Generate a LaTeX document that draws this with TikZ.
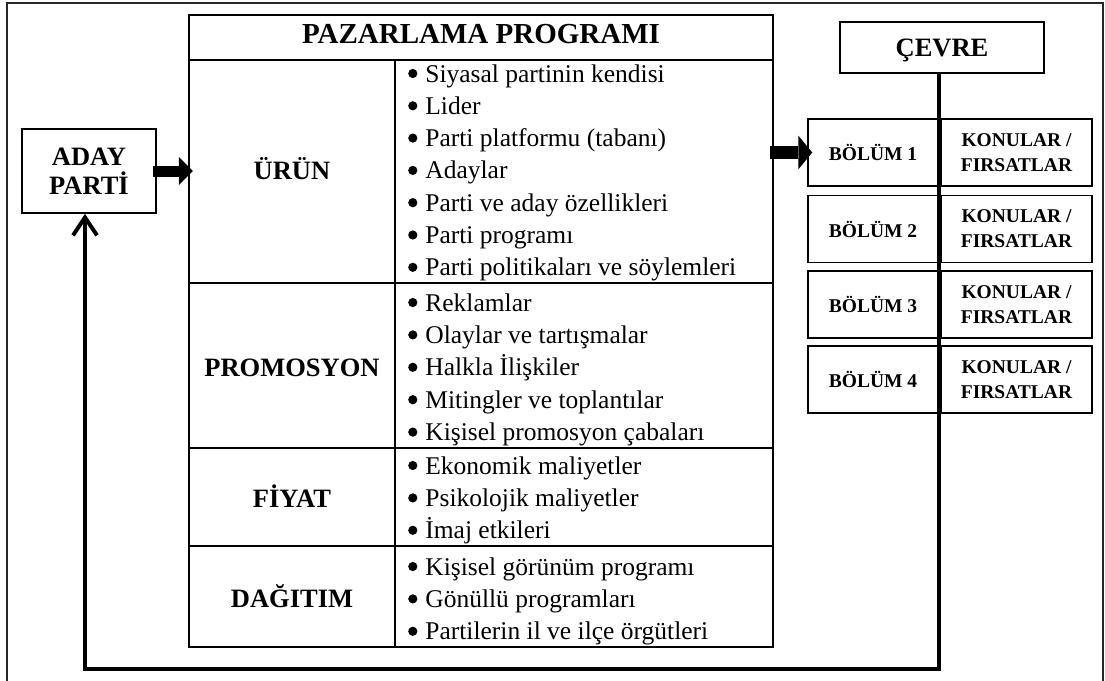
\documentclass[tikz,border=0pt]{standalone}
\usepackage{fontspec}
\setmainfont{Liberation Serif}
\usetikzlibrary{arrows.meta}
% list bullet: a solid disc sitting on the text's mid-height
\newcommand\itemdot{\tikz[baseline=0pt]\fill (5pt,8.5pt) circle (4.6pt);\hspace{8pt}}
\begin{document}
\begin{tikzpicture}[x=1pt,y=-1pt,
  box/.style={draw, line width=1.5pt, inner sep=0pt},
  headfont/.style={font=\bfseries\fontsize{29}{30}\selectfont},
  labelfont/.style={font=\bfseries\fontsize{26.5}{29}\selectfont},
  item/.style={font=\fontsize{25.5}{30}\selectfont, inner sep=0pt, anchor=base west},
  small/.style={font=\bfseries\fontsize{19.5}{25}\selectfont, align=center},
  grid/.style={line width=2.5pt},
  fatarrow/.style n args={3}{line width=#1, -{Triangle[length=#2,width=#3,line width=0pt]}},
  feedback/.style={line width=4pt, -{Straight Barb[length=18pt,width=24pt]}}
]
\clip (0,0) rectangle (1105,680);
% outer frame
\draw[line width=2pt, black!85] (7,3) rectangle (1103,695);

% marketing programme table
\node[draw, line width=2.5pt, minimum width=584pt, minimum height=632pt, inner sep=0pt] (prog) at (481,331) {};
\draw[grid] (189,60) -- (773,60);
\draw[grid] (395,60) -- (395,647);
\draw[grid] (189,283) -- (773,283);
\draw[grid] (189,448) -- (773,448);
\draw[grid] (189,546) -- (773,546);

\node[headfont, anchor=base] (title) at (481,43) {PAZARLAMA PROGRAMI};
\node[labelfont, anchor=base] (lu) at (292,179) {ÜRÜN};
\node[labelfont, anchor=base] (lp) at (292,376) {PROMOSYON};
\node[labelfont, anchor=base] (lf) at (292,507) {FİYAT};
\node[labelfont, anchor=base] (ld) at (292,607) {DAĞITIM};

\foreach \t [count=\i] in {Siyasal partinin kendisi, Lider, Parti platformu (tabanı), Adaylar, Parti ve aday özellikleri, Parti programı, Parti politikaları ve söylemleri}
  \node[item] (u\i) at (408,{82+32.3*(\i-1)}) {\itemdot\t};
\foreach \t [count=\i] in {Reklamlar, Olaylar ve tartışmalar, Halkla İlişkiler, Mitingler ve toplantılar, Kişisel promosyon çabaları}
  \node[item] (p\i) at (408,{311+32.4*(\i-1)}) {\itemdot\t};
\foreach \t [count=\i] in {Ekonomik maliyetler, Psikolojik maliyetler, İmaj etkileri}
  \node[item] (f\i) at (408,{474+32.4*(\i-1)}) {\itemdot\t};
\foreach \t [count=\i] in {Kişisel görünüm programı, Gönüllü programları, Partilerin il ve ilçe örgütleri}
  \node[item] (d\i) at (408,{575+32.4*(\i-1)}) {\itemdot\t};

% candidate / party
\node[box, minimum width=134pt, minimum height=84pt, labelfont, align=center] (aday) at (89,171) {ADAY\\PARTİ};

% environment and its sections
\node[box, minimum width=204pt, minimum height=51pt, labelfont, text height=17pt, text depth=0pt] (cevre) at (942,47.5) {ÇEVRE};
\foreach \k/\yy in {1/152.5, 2/229, 3/304.5, 4/379.5} {
  \node[box, minimum width=130pt, minimum height=67pt, small] (b\k) at (873,\yy) {BÖLÜM \k};
  \node[box, minimum width=151pt, minimum height=67pt, small] (k\k) at (1016.5,\yy) {KONULAR /\\FIRSATLAR};
}

% arrows
\draw[fatarrow={11pt}{14pt}{28pt}, shorten <=-4pt, shorten >=-5pt] (aday.east) -- (aday.east -| prog.west);
\draw[fatarrow={13pt}{14pt}{34pt}, shorten <=-4pt, shorten >=-5pt] (prog.east |- b1.west) -- (b1.west);

% feedback loop
\coordinate (fbR) at (939,669);
\coordinate (fbL) at (85,669);
\draw[feedback] (cevre.south -| fbR) -- (fbR) -- (fbL) -- (fbL |- aday.south);
\end{tikzpicture}
\end{document}
